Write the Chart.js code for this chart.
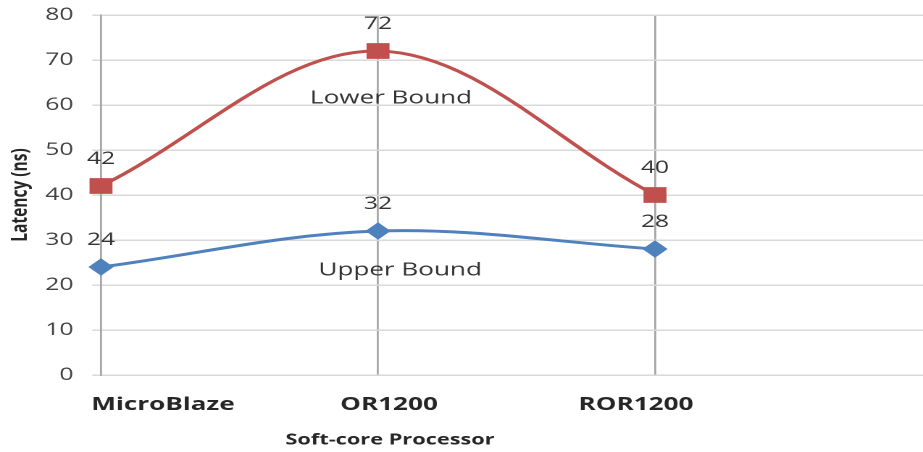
<!DOCTYPE html>
<html>
<head>
<meta charset="utf-8">
<script src="https://cdn.jsdelivr.net/npm/chart.js@4/dist/chart.umd.min.js"></script>
<style>
  html, body { margin: 0; padding: 0; background: #fff; overflow: hidden; }
  #wrap { width: 923px; height: 452px; overflow: hidden; }
  #c { display: block; transform: scaleX(1.449); transform-origin: 0 0; }
</style>
</head>
<body>
<div id="wrap"><canvas id="c" width="637" height="452"></canvas></div>
<script>
// ---- data ----
const categories = ['MicroBlaze', 'OR1200', 'ROR1200'];
const lowerBound = [42, 72, 40];
const upperBound = [24, 32, 28];
const seriesNames = ['Lower Bound', 'Upper Bound'];
const yTickMin = 0;
const yTickMax = 80;
const yTickStep = 10;
const xTitle = 'Soft-core Processor';
const yTitle = 'Latency (ns)';

// ---- layout / style constants (not data) ----
const STRETCH = 1.449;
const AXIS_LEFT = 101 / STRETCH;
const X_MAX = (923 - 101) / 277;
const RED = '#C0504D';
const BLUE = '#4F81BD';
const catLabelShift = [62 / STRETCH, 11 / STRETCH, -19 / STRETCH];
const seriesLabelAnchor = [{ x: 1.047, y: 61.5 }, { x: 1.08, y: 23.3 }];

const toPts = arr => arr.map((v, i) => ({ x: i, y: v }));

const textPlugin = {
  id: 'texts',
  afterDatasetsDraw(chart) {
    const ctx = chart.ctx;
    const xs = chart.scales.x, ys = chart.scales.y;
    ctx.save();
    // value labels
    ctx.font = '17px "Open Sans"';
    ctx.fillStyle = '#333333';
    ctx.textAlign = 'center';
    ctx.textBaseline = 'middle';
    chart.data.datasets.forEach((ds, di) => {
      const meta = chart.getDatasetMeta(di);
      meta.data.forEach((pt, i) => {
        ctx.fillText(String(ds.data[i].y), pt.x, pt.y - 27);
      });
    });
    // series name labels
    ctx.font = '18px "Open Sans"';
    seriesNames.forEach((name, i) => {
      const a = seriesLabelAnchor[i];
      ctx.fillText(name, xs.getPixelForValue(a.x), ys.getPixelForValue(a.y));
    });
    // category labels
    ctx.font = 'bold 18px "Open Sans"';
    ctx.fillStyle = '#262626';
    categories.forEach((c, i) => {
      ctx.fillText(c, xs.getPixelForValue(i) + catLabelShift[i], 405);
    });
    // x title
    ctx.font = 'bold 15px "Open Sans"';
    ctx.fillText(xTitle, 390 / STRETCH, 440);
    ctx.restore();
  }
};

new Chart(document.getElementById('c'), {
  type: 'line',
  data: {
    datasets: [
      {
        label: seriesNames[0],
        data: toPts(lowerBound),
        borderColor: RED,
        backgroundColor: RED,
        borderWidth: 3,
        tension: 0.35,
        pointStyle: 'rect',
        pointRadius: 10.5,
        pointBorderWidth: 1,
        clip: false
      },
      {
        label: seriesNames[1],
        data: toPts(upperBound),
        borderColor: BLUE,
        backgroundColor: BLUE,
        borderWidth: 3,
        tension: 0.35,
        pointStyle: 'rectRot',
        pointRadius: 8,
        pointBorderWidth: 1,
        clip: false
      }
    ]
  },
  options: {
    responsive: false,
    devicePixelRatio: 2,
    animation: false,
    layout: { autoPadding: false, padding: { top: 15, left: 0, right: 0, bottom: 0 } },
    plugins: { legend: { display: false }, tooltip: { enabled: false } },
    scales: {
      x: {
        type: 'linear',
        min: 0,
        max: X_MAX,
        ticks: { display: false, stepSize: 1 },
        afterBuildTicks(s) { s.ticks = s.ticks.filter(t => Number.isInteger(t.value) && t.value < categories.length); },
        afterFit(s) { s.height = 77; s.paddingLeft = 0; s.paddingRight = 0; },
        grid: {
          drawTicks: false,
          color: c => (c.tick && c.tick.value === 0) ? 'rgba(0,0,0,0)' : '#a6a6a6',
          lineWidth: 1.4
        },
        border: { display: false }
      },
      y: {
        min: yTickMin,
        max: yTickMax,
        ticks: {
          stepSize: yTickStep,
          padding: 13,
          color: '#404040',
          font: { family: 'Open Sans', size: 17 }
        },
        afterFit(s) { s.width = AXIS_LEFT; s.paddingTop = 0; s.paddingBottom = 0; },
        grid: { color: '#d9d9d9', lineWidth: 1.5, tickLength: 6, drawTicks: true },
        border: { display: true, color: '#a6a6a6', width: 1.4 },
        title: {
          display: true,
          text: yTitle,
          color: '#262626',
          font: { family: 'Open Sans', size: 15.5, weight: 'bold' },
          padding: { top: 5, bottom: 0 }
        }
      }
    }
  },
  plugins: [textPlugin]
});
</script>
</body>
</html>
